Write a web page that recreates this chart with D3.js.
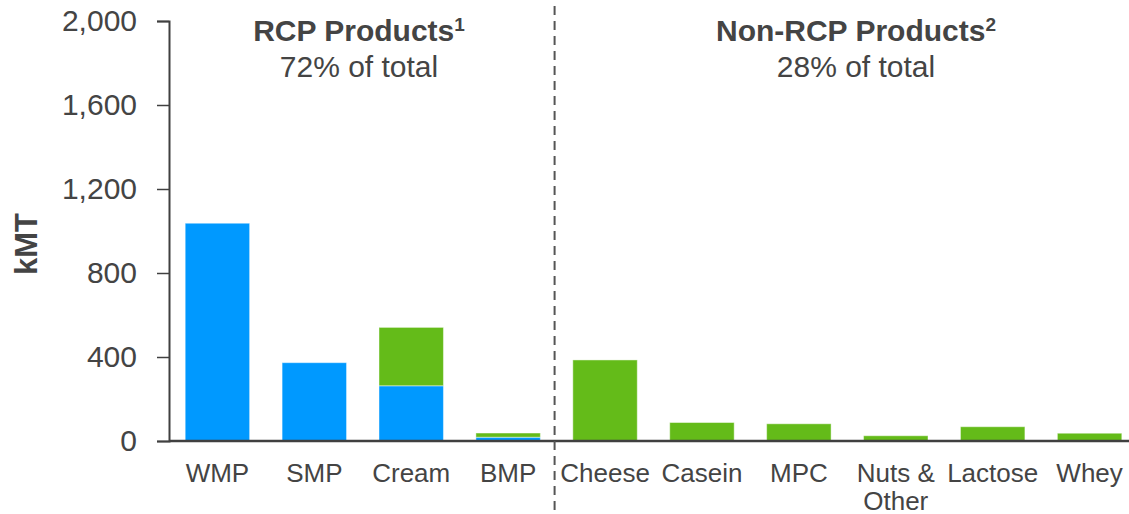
<!DOCTYPE html>
<html>
<head>
<meta charset="utf-8">
<script src="https://cdn.jsdelivr.net/npm/d3@7"></script>
<style>
  html, body { margin: 0; padding: 0; background: #fff; }
  svg { display: block; font-family: "Liberation Sans", Arial, Helvetica, sans-serif; }
</style>
</head>
<body>
<svg id="chart" width="1129" height="514"></svg>
<script>
// Product categories, in display order
const categories = ["WMP", "SMP", "Cream", "BMP", "Cheese", "Casein", "MPC", "Nuts & Other", "Lactose", "Whey"];
// Volume (kMT) by category: blue and green stack segments
const blueValues  = [1037, 373, 263, 18, 0, 0, 0, 0, 0, 0];
const greenValues = [0, 0, 278, 20, 386, 88, 82, 25, 68, 37];
// Axis ticks
const yTicks = [0, 400, 800, 1200, 1600, 2000];
// Group headers
const groupTitles = ["RCP Products", "Non-RCP Products"];
const groupNotes = ["1", "2"];
const groupShares = ["72% of total", "28% of total"];

const svg = d3.select("#chart");
const textColor = "#444444";
const blue = "#0099FF";
const green = "#64BB19";

const x = d3.scaleBand().domain(categories).range([169, 1138]).paddingInner(0.335).paddingOuter(0.167);
const y = d3.scaleLinear().domain([0, 2000]).range([441, 21]);

const rows = categories.map((c, i) => ({ cat: c, blue: blueValues[i], green: greenValues[i] }));
const stack = d3.stack().keys(["blue", "green"])(rows);
const colors = { blue: blue, green: green };

// Stacked bars
svg.append("g").selectAll("g")
  .data(stack)
  .join("g")
  .attr("fill", d => colors[d.key])
  .selectAll("rect")
  .data(d => d.filter(s => s[1] - s[0] > 0))
  .join("rect")
  .attr("x", d => x(d.data.cat))
  .attr("width", x.bandwidth())
  .attr("y", d => y(d[1]))
  .attr("height", d => y(d[0]) - y(d[1]))
  .attr("stroke", "rgba(255,255,255,0.45)")
  .attr("stroke-width", 1);

// Y axis
const yAxis = svg.append("g")
  .attr("transform", "translate(169,0)")
  .call(d3.axisLeft(y).tickValues(yTicks).tickFormat(d3.format(",")).tickSize(12).tickPadding(20));
yAxis.select(".domain").attr("stroke", "#404040").attr("stroke-width", 2);
yAxis.selectAll(".tick line").attr("stroke", "#404040").attr("stroke-width", 1.5);
yAxis.selectAll(".tick text")
  .attr("fill", textColor)
  .style("font-size", "30px")
  .attr("font-family", "'Liberation Sans', Arial, sans-serif");

// Baseline
svg.append("line")
  .attr("x1", 169).attr("x2", 1129)
  .attr("y1", y(0)).attr("y2", y(0))
  .attr("stroke", "#404040").attr("stroke-width", 2.5);

// Category labels (two lines for "Nuts & Other")
const labelG = svg.append("g");
categories.forEach(c => {
  const cx = x(c) + x.bandwidth() / 2;
  const lines = c === "Nuts & Other" ? ["Nuts &", "Other"] : [c];
  const t = labelG.append("text")
    .attr("x", cx).attr("y", 482)
    .attr("text-anchor", "middle")
    .attr("fill", textColor)
    .style("font-size", "26px");
  lines.forEach((ln, k) => {
    t.append("tspan").attr("x", cx).attr("dy", k === 0 ? 0 : 28).text(ln);
  });
});

// Y axis title
svg.append("text")
  .attr("transform", "translate(37,244) rotate(-90)")
  .attr("text-anchor", "middle")
  .attr("fill", textColor)
  .style("font-size", "31px")
  .style("font-weight", "bold")
  .text("kMT");

// Divider between groups
const divX = (x("BMP") + x.bandwidth() + x("Cheese")) / 2 - 2;
svg.append("line")
  .attr("x1", divX).attr("x2", divX)
  .attr("y1", 6).attr("y2", 510)
  .attr("stroke", "#555555").attr("stroke-width", 2)
  .attr("stroke-dasharray", "9,6");

// Group headers
const headerX = [359, 856];
groupTitles.forEach((title, i) => {
  const t = svg.append("text")
    .attr("x", headerX[i]).attr("y", 41)
    .attr("text-anchor", "middle")
    .attr("fill", textColor)
    .style("font-size", "30px")
    .style("font-weight", "bold");
  t.append("tspan").text(title);
  t.append("tspan").attr("dy", -10).style("font-size", "19px").text(groupNotes[i]);
  svg.append("text")
    .attr("x", headerX[i]).attr("y", 77)
    .attr("text-anchor", "middle")
    .attr("fill", textColor)
    .style("font-size", "30px")
    .text(groupShares[i]);
});
</script>
</body>
</html>
